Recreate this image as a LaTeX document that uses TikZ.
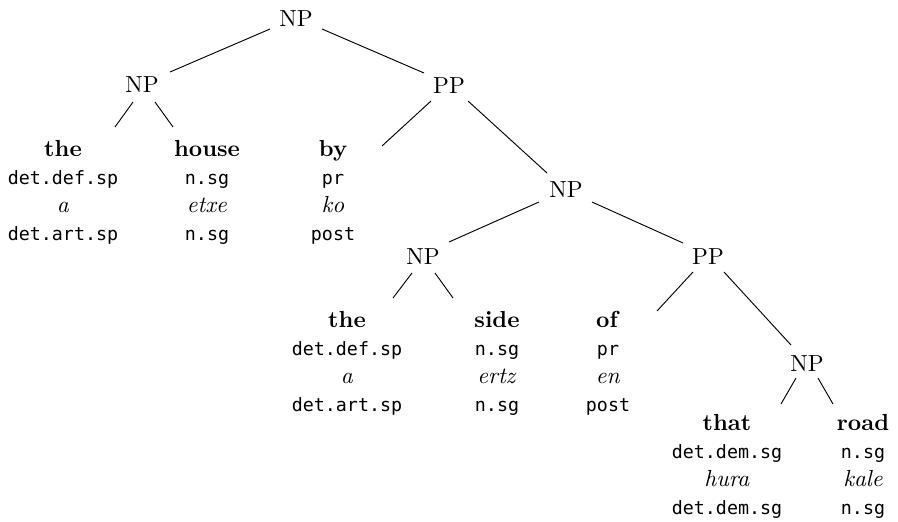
\documentclass[tikz,border=0pt]{standalone}
\usepackage{fontspec}
\setmonofont[Scale=MatchLowercase]{DejaVu Sans Mono}
\tikzset{
  cat/.style={anchor=base, inner sep=0pt},
  % a multi-line node's base is the baseline of its last line
  leaf/.style={anchor=base, inner sep=0pt, align=center},
  branch/.style={draw=black, line width=0.4pt}
}
\newcommand{\gl}[4]{\textbf{#1}\\\texttt{#2}\\\textit{#3}\\\texttt{#4}}
\begin{document}
\begin{tikzpicture}[x=0.43pt, y=-0.43pt]
\useasboundingbox (0,0) rectangle (898,521);

% phrase labels
\node[cat] (root) at (296,26)  {NP};
\node[cat] (np1)  at (142,92)  {NP};
\node[cat] (pp1)  at (449,93)  {PP};
\node[cat] (np2)  at (566,197) {NP};
\node[cat] (np3)  at (423,264) {NP};
\node[cat] (pp2)  at (708,264) {PP};
\node[cat] (np4)  at (807,371) {NP};

% words with glosses (positioned by the last line)
\node[leaf] (the1)  at (63,240)  {\gl{the}{det.def.sp}{a}{det.art.sp}};
\node[leaf] (house) at (207,240) {\gl{house}{n.sg}{etxe}{n.sg}};
\node[leaf] (by)    at (333,240) {\gl{by}{pr}{ko}{post}};
\node[leaf] (the2)  at (347,411) {\gl{the}{det.def.sp}{a}{det.art.sp}};
\node[leaf] (side)  at (497,411) {\gl{side}{n.sg}{ertz}{n.sg}};
\node[leaf] (of)    at (608,411) {\gl{of}{pr}{en}{post}};
\node[leaf] (that)  at (727,514) {\gl{that}{det.dem.sg}{hura}{det.dem.sg}};
\node[leaf] (road)  at (863,514) {\gl{road}{n.sg}{kale}{n.sg}};

% branch end points
\coordinate (root-l) at (270,29);  \coordinate (np1-t)   at (170,72);
\coordinate (root-r) at (322,29);  \coordinate (pp1-t)   at (424,73);
\coordinate (np1-l)  at (133,102); \coordinate (the1-t)  at (115,127);
\coordinate (np1-r)  at (155,102); \coordinate (house-t) at (173,127);
\coordinate (pp1-l)  at (431,101); \coordinate (by-t)    at (382,146);
\coordinate (pp1-r)  at (468,101); \coordinate (np2-t)   at (547,173);
\coordinate (np2-l)  at (539,202); \coordinate (np3-t)   at (449,242);
\coordinate (np2-r)  at (592,202); \coordinate (pp2-t)   at (683,243);
\coordinate (np3-l)  at (412,273); \coordinate (the2-t)  at (393,298);
\coordinate (np3-r)  at (435,273); \coordinate (side-t)  at (453,298);
\coordinate (pp2-l)  at (693,272); \coordinate (of-t)    at (657,311);
\coordinate (pp2-r)  at (724,272); \coordinate (np4-t)   at (791,345);
\coordinate (np4-l)  at (796,378); \coordinate (that-t)  at (781,404);
\coordinate (np4-r)  at (818,378); \coordinate (road-t)  at (833,404);

% branches
\draw[branch] (root-l) -- (np1-t);
\draw[branch] (root-r) -- (pp1-t);
\draw[branch] (np1-l) -- (the1-t);
\draw[branch] (np1-r) -- (house-t);
\draw[branch] (pp1-l) -- (by-t);
\draw[branch] (pp1-r) -- (np2-t);
\draw[branch] (np2-l) -- (np3-t);
\draw[branch] (np2-r) -- (pp2-t);
\draw[branch] (np3-l) -- (the2-t);
\draw[branch] (np3-r) -- (side-t);
\draw[branch] (pp2-l) -- (of-t);
\draw[branch] (pp2-r) -- (np4-t);
\draw[branch] (np4-l) -- (that-t);
\draw[branch] (np4-r) -- (road-t);
\end{tikzpicture}
\end{document}
